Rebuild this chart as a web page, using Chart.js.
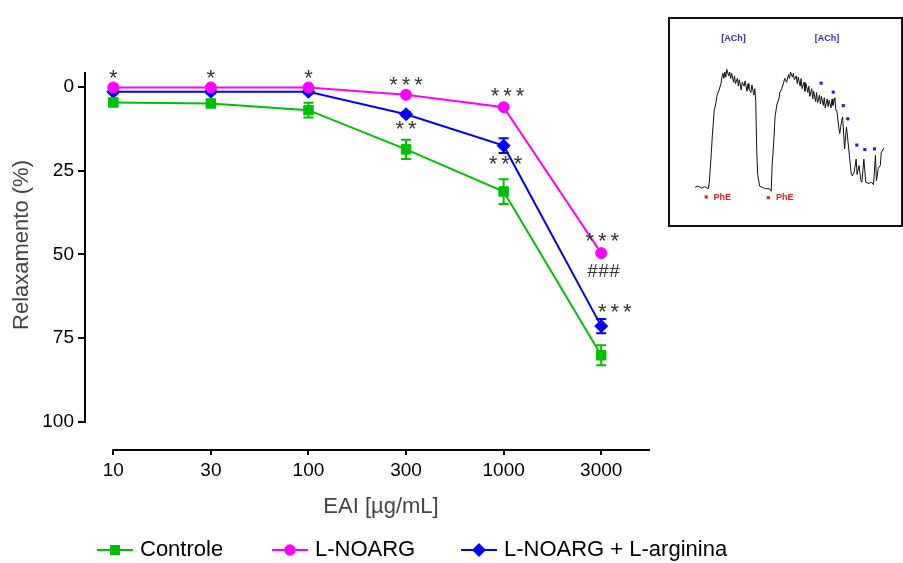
<!DOCTYPE html>
<html>
<head>
<meta charset="utf-8">
<script src="https://cdn.jsdelivr.net/npm/chart.js@4.4.0/dist/chart.umd.min.js"></script>
<style>
  body { margin: 0; background: #fff; }
  #wrap { position: relative; width: 903px; height: 563px; overflow: hidden; }
  #mainChart { position: absolute; left: 0; top: 0; }
  #insetBox { position: absolute; left: 668px; top: 17px; width: 231px; height: 206px; border: 2px solid #111; background: #fff; }
  #insetChart { position: absolute; left: 0; top: 0; }
</style>
</head>
<body>
<div id="wrap">
  <canvas id="mainChart" width="903" height="563"></canvas>
  <div id="insetBox"><canvas id="insetChart" width="231" height="206"></canvas></div>
</div>
<script>
// doses (EAI, ug/mL) on an evenly spaced axis
var doses = ['10', '30', '100', '300', '1000', '3000'];
var yTicks = [0, 25, 50, 75, 100];

// relaxation (%) mean and error
var controle = [4.6, 4.9, 6.9, 18.6, 31.2, 80.1];
var controleErr = [1.0, 1.0, 2.2, 2.9, 3.7, 3.0];
var lnoarg = [0.1, 0.1, 0.1, 2.3, 6.0, 49.6];
var lnoargErr = [0, 0, 0, 0, 0, 0];
var lnoargArg = [1.4, 1.4, 1.4, 8.1, 17.5, 71.4];
var lnoargArgErr = [0.5, 0.5, 0.5, 0.6, 2.2, 2.1];

// significance marks: [dose index, relaxation value, symbol, count]
var marks = [
    [0, -3.9, '*', 1], [1, -3.9, '*', 1], [2, -3.9, '*', 1],
    [3, -1.9, '*', 3], [3, 11.3, '*', 2],
    [4.04, 1.6, '*', 3], [4.02, 21.8, '*', 3],
    [5.01, 44.9, '*', 3], [5.02, 54.8, '#', 3], [5.14, 66.0, '*', 3]
];

// inset tracing (time, tension)
var traceTime = [0,3,7,10,14,15,17,18,20,22,23,25,27,28,29,30,31,32,33,35,36,37,38,40,41,42,44,45,46,48,49,51,52,54,55,56,58,59,61,62,63,64,65,67,70,73,77,79,80,82,83,85,87,88,90,92,93,95,97,98,99,101,102,103,105,106,107,109,110,111,113,114,115,117,118,119,121,122,123,125,126,127,129,130,131,133,134,135,137,138,139,141,142,143,145,146,147,149,150,152,153,155,157,158,160,162,163,165,167,168,170,172,173,175,177,180,183,185,187,188,190,192,193,196];
var traceForce = [5,6,4.5,5.5,4,10,32,45,65,72,77,81,86,91,94,90,95,91,97,92,95,90,94,87,92,86,90,84,89,81,87,84,88,80,86,82,79,85,77,82,72,35,15,6,5,4,4,2,22,45,60,70,74,79,82,87,90,87,93,90,95,91,94,89,92,86,91,84,90,82,87,80,86,79,84,76,82,74,80,72,79,71,77,70,76,69,75,67,74,68,73,67,74,69,75,65,65,52,47,57,60,35,52,45,30,15,14,17,27,15,22,10,9,27,9,8,9,7,30,10,20,22,32,36];
var achTime = [130.7, 143.3, 153.7, 158.3, 167.7, 176, 186];
var achForce = [86.3, 79.3, 68.8, 58.5, 38, 34.5, 35];
var pheTime = [11.7, 76];
var pheForce = [-2.5, -3];

var GREEN = '#00c000', MAGENTA = '#ff00ff', BLUE = '#0000ff';
var FONT = "'Liberation Sans', Arial, sans-serif";

function pts(arr) {
    return arr.map(function(v, i) { return { x: i, y: v }; });
}

var errorSets = [controleErr, lnoargErr, lnoargArgErr];

var errorBars = {
    id: 'errorBars',
    beforeDatasetsDraw: function(chart) {
        var ctx = chart.ctx, xs = chart.scales.x, ys = chart.scales.y;
        ctx.save();
        chart.data.datasets.forEach(function(ds, d) {
            var errs = errorSets[d];
            ctx.strokeStyle = ds.borderColor;
            ctx.lineWidth = 2;
            ds.data.forEach(function(p, i) {
                if (!errs[i]) return;
                var x = xs.getPixelForValue(p.x);
                var y1 = ys.getPixelForValue(p.y - errs[i]);
                var y2 = ys.getPixelForValue(p.y + errs[i]);
                ctx.beginPath();
                ctx.moveTo(x, y1); ctx.lineTo(x, y2);
                ctx.moveTo(x - 5, y1); ctx.lineTo(x + 5, y1);
                ctx.moveTo(x - 5, y2); ctx.lineTo(x + 5, y2);
                ctx.stroke();
            });
        });
        ctx.restore();
    }
};

var decorations = {
    id: 'decorations',
    afterDraw: function(chart) {
        var ctx = chart.ctx, xs = chart.scales.x, ys = chart.scales.y;
        var area = chart.chartArea;
        ctx.save();
        // axis lines (y stops at 100, x starts at the first dose)
        ctx.strokeStyle = '#000';
        ctx.lineWidth = 2;
        ctx.beginPath();
        ctx.moveTo(area.left, area.top);
        ctx.lineTo(area.left, ys.getPixelForValue(100) + 1);
        ctx.moveTo(xs.getPixelForValue(0) - 1, area.bottom);
        ctx.lineTo(area.right, area.bottom);
        ctx.stroke();

        // significance marks, one glyph at a time
        ctx.fillStyle = '#333';
        ctx.textAlign = 'center';
        ctx.textBaseline = 'alphabetic';
        marks.forEach(function(m) {
            ctx.font = (m[2] === '#' ? 'italic 19px ' : '22px ') + FONT;
            var mt = ctx.measureText(m[2]);
            var off = (mt.actualBoundingBoxAscent - mt.actualBoundingBoxDescent) / 2;
            var pitch = m[2] === '#' ? 11 : 12.5;
            var cx = xs.getPixelForValue(m[0]), cy = ys.getPixelForValue(m[1]) + off;
            for (var k = 0; k < m[3]; k++) {
                ctx.fillText(m[2], cx + (k - (m[3] - 1) / 2) * pitch, cy);
            }
        });

        // axis titles
        ctx.fillStyle = '#444';
        ctx.font = '22px ' + FONT;
        ctx.textAlign = 'center';
        ctx.textBaseline = 'middle';
        ctx.fillText('EAI [\u00b5g/mL]', 381, 507);
        ctx.save();
        ctx.translate(22, 245);
        ctx.rotate(-Math.PI / 2);
        ctx.fillText('Relaxamento (%)', 0, 0);
        ctx.restore();

        // legend
        var legendX = [97, 272, 461];
        ctx.font = '22px ' + FONT;
        ctx.textAlign = 'left';
        ctx.fillStyle = '#000';
        chart.data.datasets.forEach(function(ds, d) {
            var x0 = legendX[d], y0 = 550;
            ctx.strokeStyle = ds.borderColor;
            ctx.lineWidth = 2;
            ctx.beginPath();
            ctx.moveTo(x0, y0); ctx.lineTo(x0 + 36, y0);
            ctx.stroke();
            Chart.helpers.drawPoint(ctx, {
                pointStyle: ds.pointStyle, radius: ds.pointRadius * 0.85,
                borderWidth: 1
            }, x0 + 18, y0);
            ctx.fillStyle = ds.borderColor;
            ctx.fill();
            ctx.fillStyle = '#000';
            ctx.fillText(ds.label, x0 + 43, y0);
        });
        ctx.restore();
    }
};

new Chart(document.getElementById('mainChart'), {
    type: 'line',
    data: {
        datasets: [
            { label: 'Controle', data: pts(controle), borderColor: GREEN, backgroundColor: GREEN,
              pointStyle: 'rect', pointRadius: 6.7 },
            { label: 'L-NOARG', data: pts(lnoarg), borderColor: MAGENTA, backgroundColor: MAGENTA,
              pointStyle: 'circle', pointRadius: 5.5 },
            { label: 'L-NOARG + L-arginina', data: pts(lnoargArg), borderColor: BLUE, backgroundColor: BLUE,
              pointStyle: 'rectRot', pointRadius: 6.5 }
        ].map(function(ds) {
            ds.borderWidth = 2;
            ds.pointBorderWidth = 1;
            ds.tension = 0;
            ds.clip = false;
            return ds;
        })
    },
    options: {
        responsive: false,
        animation: false,
        events: [],
        layout: { padding: { left: 0, top: 72, right: 253, bottom: 0 } },
        plugins: { legend: { display: false }, tooltip: { enabled: false } },
        scales: {
            x: {
                type: 'linear', min: -0.29, max: 5.5,
                afterBuildTicks: function(s) { s.ticks = doses.map(function(d, i) { return { value: i }; }); },
                afterFit: function(s) { s.height = 113; },
                grid: { drawOnChartArea: false, drawTicks: true, tickLength: 5, color: '#000', lineWidth: 2 },
                border: { display: false },
                ticks: { color: '#000', padding: 4, maxRotation: 0, font: { size: 19, family: FONT },
                         callback: function(v) { return doses[v]; } }
            },
            y: {
                reverse: true, min: -4.5, max: 108.4,
                afterBuildTicks: function(s) { s.ticks = yTicks.map(function(v) { return { value: v }; }); },
                afterFit: function(s) { s.width = 85; },
                grid: { drawOnChartArea: false, drawTicks: true, tickLength: 7, color: '#000', lineWidth: 2 },
                border: { display: false },
                ticks: { color: '#000', padding: 4, font: { size: 19, family: FONT } }
            }
        }
    },
    plugins: [errorBars, decorations]
});

// inset: original tracing
var insetText = {
    id: 'insetText',
    afterDraw: function(chart) {
        var ctx = chart.ctx, xs = chart.scales.x, ys = chart.scales.y;
        ctx.save();
        ctx.textBaseline = 'middle';
        ctx.font = 'bold 9px ' + FONT;
        ctx.fillStyle = '#2a2ad0';
        ctx.textAlign = 'center';
        ctx.fillText('[ACh]', xs.getPixelForValue(40), ys.getPixelForValue(121));
        ctx.fillText('[ACh]', xs.getPixelForValue(136.7), ys.getPixelForValue(121));
        ctx.fillStyle = '#e02020';
        ctx.textAlign = 'left';
        ctx.fillText('PhE', xs.getPixelForValue(19.3), ys.getPixelForValue(-3.3));
        ctx.fillText('PhE', xs.getPixelForValue(84), ys.getPixelForValue(-3.3));
        ctx.restore();
    }
};

new Chart(document.getElementById('insetChart'), {
    type: 'line',
    data: {
        datasets: [
            { data: traceTime.map(function(t, i) { return { x: t, y: traceForce[i] }; }),
              borderColor: '#111', borderWidth: 1, pointRadius: 0, tension: 0 },
            { data: achTime.map(function(t, i) { return { x: t, y: achForce[i] }; }),
              showLine: false, pointStyle: 'rect', pointRadius: 2.2,
              backgroundColor: '#2020e0', borderColor: '#2020e0', borderWidth: 0 },
            { data: pheTime.map(function(t, i) { return { x: t, y: pheForce[i] }; }),
              showLine: false, pointStyle: 'rect', pointRadius: 2.2,
              backgroundColor: '#e02020', borderColor: '#e02020', borderWidth: 0 }
        ]
    },
    options: {
        responsive: false,
        animation: false,
        events: [],
        layout: { padding: 0 },
        plugins: { legend: { display: false }, tooltip: { enabled: false } },
        scales: {
            x: { type: 'linear', display: false, min: -21.67, max: 209.33 },
            y: { display: false, min: -21.25, max: 133.25 }
        }
    },
    plugins: [insetText]
});
</script>
</body>
</html>
